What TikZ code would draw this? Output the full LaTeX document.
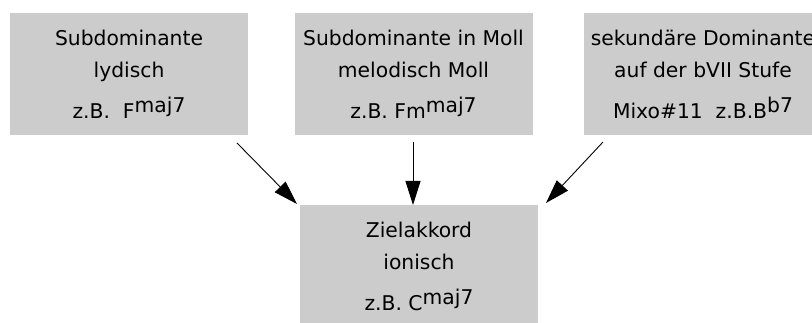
\documentclass[tikz,border=0pt]{standalone}
\usepackage{fontspec}
\setmainfont{DejaVu Sans}
\usetikzlibrary{arrows.meta}
\newcommand\hochstellen[1]{\raisebox{6pt}{#1}}
\tikzset{
  akkord/.style={fill=black!20,minimum width=238pt,minimum height=122pt,
    inner sep=0pt,align=center,font=\fontsize{20.3}{32}\selectfont},
  pfeil/.style={line width=0.9pt,-{Triangle[length=24pt,width=15pt]}}
}
\begin{document}
\begin{tikzpicture}[x=1pt,y=1pt]
\clip (0,0) rectangle (812,-323);
\fill[white] (0,0) rectangle (812,-323);
\path node[akkord] (lydisch) at (129,-74)
    {Subdominante\\ lydisch\\[9pt] z.B.\ \ F\hochstellen{maj7}}
  node[akkord] (moll) at (413.5,-74)
    {Subdominante in Moll\\ melodisch Moll\\[9pt] z.B. Fm\hochstellen{maj7}}
  node[akkord] (mixo) at (703,-74)
    {sekundäre Dominante\\ auf der bVII Stufe\\[9pt] Mixo\#11\ \ z.B.B\hochstellen{b7}}
  node[akkord] (ziel) at (419,-266)
    {Zielakkord\\ ionisch\\[9pt] z.B.\ C\hochstellen{maj7}};
% Pfeile zum Zielakkord
\coordinate (lydisch-aus) at (237,-143);
\coordinate (moll-aus) at (413,-142);
\coordinate (mixo-aus) at (603,-142);
\coordinate (ziel-links) at (297,-204);
\coordinate (ziel-mitte) at (413,-205);
\coordinate (ziel-rechts) at (546,-203);
\draw[pfeil] (lydisch-aus) -- (ziel-links);
\draw[pfeil] (moll-aus) -- (ziel-mitte);
\draw[pfeil] (mixo-aus) -- (ziel-rechts);
\end{tikzpicture}
\end{document}
